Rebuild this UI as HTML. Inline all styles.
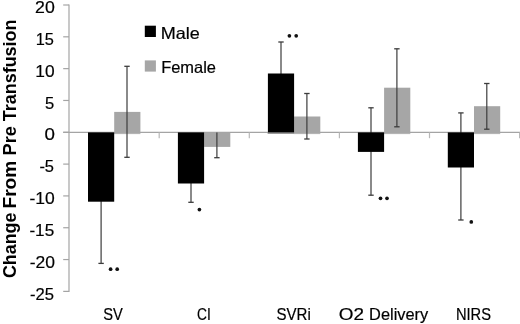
<!DOCTYPE html>
<html><head><meta charset="utf-8"><title>Chart</title>
<style>html,body{margin:0;padding:0;background:#fff;overflow:hidden}body{width:520px;height:324px}</style>
</head><body>
<svg width="520" height="324" viewBox="0 0 520 324" style="display:block;will-change:transform;font-family:'Liberation Sans',sans-serif">
<rect width="520" height="324" fill="#fff"/>
<g stroke="#a4a4a4" stroke-width="1.2" fill="none">
<line x1="69.0" y1="4.5" x2="69.0" y2="291.88"/>
<line x1="63.2" y1="5.00" x2="69.0" y2="5.00"/>
<line x1="63.2" y1="36.82" x2="69.0" y2="36.82"/>
<line x1="63.2" y1="68.64" x2="69.0" y2="68.64"/>
<line x1="63.2" y1="100.46" x2="69.0" y2="100.46"/>
<line x1="63.2" y1="132.28" x2="69.0" y2="132.28"/>
<line x1="63.2" y1="164.10" x2="69.0" y2="164.10"/>
<line x1="63.2" y1="195.92" x2="69.0" y2="195.92"/>
<line x1="63.2" y1="227.74" x2="69.0" y2="227.74"/>
<line x1="63.2" y1="259.56" x2="69.0" y2="259.56"/>
<line x1="63.2" y1="291.38" x2="69.0" y2="291.38"/>
<line x1="63.2" y1="132.4" x2="520" y2="132.4"/>
<line x1="159.2" y1="132.4" x2="159.2" y2="138.20000000000002" stroke="#b8b8b8"/>
<line x1="249.3" y1="132.4" x2="249.3" y2="138.20000000000002" stroke="#b8b8b8"/>
<line x1="339.4" y1="132.4" x2="339.4" y2="138.20000000000002" stroke="#b8b8b8"/>
<line x1="429.5" y1="132.4" x2="429.5" y2="138.20000000000002" stroke="#b8b8b8"/>
<line x1="519.6" y1="132.4" x2="519.6" y2="138.20000000000002" stroke="#b8b8b8"/>
</g>
<rect x="113.7" y="132.8" width="26.7" height="1.3" fill="#b4b4b4"/>
<rect x="114.2" y="111.9" width="26.2" height="20.5" fill="#a6a6a6"/>
<g stroke="#3c3c3c"><line x1="127.0" y1="66.3" x2="127.0" y2="157.3" stroke-width="1.2"/><line x1="124.3" y1="66.3" x2="129.7" y2="66.3" stroke-width="1.3"/><line x1="124.3" y1="157.3" x2="129.7" y2="157.3" stroke-width="1.3"/></g>
<g stroke="#3c3c3c"><line x1="101.1" y1="139.0" x2="101.1" y2="263.4" stroke-width="1.2"/><line x1="98.4" y1="139.0" x2="103.8" y2="139.0" stroke-width="1.3"/><line x1="98.4" y1="263.4" x2="103.8" y2="263.4" stroke-width="1.3"/></g>
<rect x="88.0" y="132.4" width="26.2" height="69.3" fill="#000"/>
<rect x="204.1" y="132.4" width="26.2" height="14.5" fill="#a6a6a6"/>
<g stroke="#3c3c3c"><line x1="216.9" y1="132.4" x2="216.9" y2="157.7" stroke-width="1.2"/><line x1="214.2" y1="157.7" x2="219.6" y2="157.7" stroke-width="1.3"/></g>
<g stroke="#3c3c3c"><line x1="191.0" y1="164.0" x2="191.0" y2="202.3" stroke-width="1.2"/><line x1="188.3" y1="164.0" x2="193.7" y2="164.0" stroke-width="1.3"/><line x1="188.3" y1="202.3" x2="193.7" y2="202.3" stroke-width="1.3"/></g>
<rect x="177.9" y="132.4" width="26.2" height="51.1" fill="#000"/>
<rect x="293.6" y="132.8" width="26.7" height="1.3" fill="#b4b4b4"/>
<rect x="267.6" y="132.8" width="26.5" height="1.2" fill="#9a9a9a"/>
<rect x="294.1" y="116.5" width="26.2" height="15.9" fill="#a6a6a6"/>
<g stroke="#3c3c3c"><line x1="306.9" y1="93.5" x2="306.9" y2="139.0" stroke-width="1.2"/><line x1="304.2" y1="93.5" x2="309.6" y2="93.5" stroke-width="1.3"/><line x1="304.2" y1="139.0" x2="309.6" y2="139.0" stroke-width="1.3"/></g>
<g stroke="#3c3c3c"><line x1="281.0" y1="42.0" x2="281.0" y2="105.0" stroke-width="1.2"/><line x1="278.3" y1="42.0" x2="283.7" y2="42.0" stroke-width="1.3"/><line x1="278.3" y1="105.0" x2="283.7" y2="105.0" stroke-width="1.3"/></g>
<rect x="267.9" y="73.5" width="26.2" height="58.9" fill="#000"/>
<rect x="383.6" y="132.8" width="26.7" height="1.3" fill="#b4b4b4"/>
<rect x="384.1" y="87.7" width="26.2" height="44.7" fill="#a6a6a6"/>
<g stroke="#3c3c3c"><line x1="396.9" y1="48.8" x2="396.9" y2="126.8" stroke-width="1.2"/><line x1="394.2" y1="48.8" x2="399.6" y2="48.8" stroke-width="1.3"/><line x1="394.2" y1="126.8" x2="399.6" y2="126.8" stroke-width="1.3"/></g>
<g stroke="#3c3c3c"><line x1="371.0" y1="107.8" x2="371.0" y2="195.2" stroke-width="1.2"/><line x1="368.3" y1="107.8" x2="373.7" y2="107.8" stroke-width="1.3"/><line x1="368.3" y1="195.2" x2="373.7" y2="195.2" stroke-width="1.3"/></g>
<rect x="357.9" y="132.4" width="26.2" height="19.5" fill="#000"/>
<rect x="473.5" y="132.8" width="26.7" height="1.3" fill="#b4b4b4"/>
<rect x="474.0" y="106.2" width="26.2" height="26.2" fill="#a6a6a6"/>
<g stroke="#3c3c3c"><line x1="486.8" y1="83.5" x2="486.8" y2="129.2" stroke-width="1.2"/><line x1="484.1" y1="83.5" x2="489.5" y2="83.5" stroke-width="1.3"/><line x1="484.1" y1="129.2" x2="489.5" y2="129.2" stroke-width="1.3"/></g>
<g stroke="#3c3c3c"><line x1="460.9" y1="112.9" x2="460.9" y2="220.0" stroke-width="1.2"/><line x1="458.2" y1="112.9" x2="463.6" y2="112.9" stroke-width="1.3"/><line x1="458.2" y1="220.0" x2="463.6" y2="220.0" stroke-width="1.3"/></g>
<rect x="447.8" y="132.4" width="26.2" height="35.1" fill="#000"/>
<circle cx="110.6" cy="269.2" r="1.85" fill="#111"/>
<circle cx="117.2" cy="269.2" r="1.85" fill="#111"/>
<circle cx="199.4" cy="209.6" r="1.85" fill="#111"/>
<circle cx="289.4" cy="35.8" r="1.85" fill="#111"/>
<circle cx="296.2" cy="35.8" r="1.85" fill="#111"/>
<circle cx="380.5" cy="198.3" r="1.85" fill="#111"/>
<circle cx="387.0" cy="198.3" r="1.85" fill="#111"/>
<circle cx="471.3" cy="221.9" r="1.85" fill="#111"/>
<g fill="#000" stroke="#000" stroke-width="0.2">
<text id="y20" x="35.09" y="13.0" font-size="17" textLength="19.72" lengthAdjust="spacingAndGlyphs">20</text>
<text id="y15" x="35.76" y="44.8" font-size="17" textLength="18.21" lengthAdjust="spacingAndGlyphs">15</text>
<text id="y10" x="35.37" y="76.7" font-size="17" textLength="19.29" lengthAdjust="spacingAndGlyphs">10</text>
<text id="y5" x="44.92" y="108.5" font-size="17" textLength="9.22" lengthAdjust="spacingAndGlyphs">5</text>
<text id="y0" x="44.42" y="140.4" font-size="17" textLength="10.43" lengthAdjust="spacingAndGlyphs">0</text>
<text id="ym5" x="39.40" y="172.2" font-size="17" textLength="14.63" lengthAdjust="spacingAndGlyphs">-5</text>
<text id="ym10" x="29.42" y="204.0" font-size="17" textLength="25.27" lengthAdjust="spacingAndGlyphs">-10</text>
<text id="ym15" x="29.40" y="235.9" font-size="17" textLength="24.78" lengthAdjust="spacingAndGlyphs">-15</text>
<text id="ym20" x="29.67" y="268.0" font-size="17" textLength="25.26" lengthAdjust="spacingAndGlyphs">-20</text>
<text id="ym25" x="29.90" y="299.6" font-size="17" textLength="24.01" lengthAdjust="spacingAndGlyphs">-25</text>
<text id="SV" x="103.19" y="319.6" font-size="17" textLength="19.56" lengthAdjust="spacingAndGlyphs">SV</text>
<text id="CI" x="197.01" y="319.6" font-size="17" textLength="13.79" lengthAdjust="spacingAndGlyphs">CI</text>
<text id="SVRi" x="276.53" y="319.6" font-size="17" textLength="34.27" lengthAdjust="spacingAndGlyphs">SVRi</text>
<text id="O2" x="338.89" y="319.6" font-size="17" textLength="25.21" lengthAdjust="spacingAndGlyphs">O2</text>
<text id="Deliv" x="369.11" y="319.6" font-size="17" textLength="59.13" lengthAdjust="spacingAndGlyphs">Delivery</text>
<text id="NIRS" x="455.92" y="319.6" font-size="17" textLength="35.09" lengthAdjust="spacingAndGlyphs">NIRS</text>
<text id="Male" x="160.81" y="38.6" font-size="16.5" textLength="39.04" lengthAdjust="spacingAndGlyphs">Male</text>
<text id="Female" x="161.20" y="73.3" font-size="16.5" textLength="54.80" lengthAdjust="spacingAndGlyphs">Female</text>
</g>
<rect x="144.8" y="25.7" width="11.1" height="11.3" fill="#000"/>
<rect x="144.8" y="60.4" width="11.1" height="11.2" fill="#a6a6a6"/>
<text transform="translate(15.8,278.02) rotate(-90)" font-size="18.2" font-weight="bold" textLength="65.33" lengthAdjust="spacingAndGlyphs" fill="#000">Change</text>
<text transform="translate(15.8,208.51) rotate(-90)" font-size="18.2" font-weight="bold" textLength="47.80" lengthAdjust="spacingAndGlyphs" fill="#000">From</text>
<text transform="translate(15.8,155.42) rotate(-90)" font-size="18.2" font-weight="bold" textLength="29.41" lengthAdjust="spacingAndGlyphs" fill="#000">Pre</text>
<text transform="translate(15.8,121.25) rotate(-90)" font-size="18.2" font-weight="bold" textLength="101.77" lengthAdjust="spacingAndGlyphs" fill="#000">Transfusion</text>
</svg>
</body></html>
